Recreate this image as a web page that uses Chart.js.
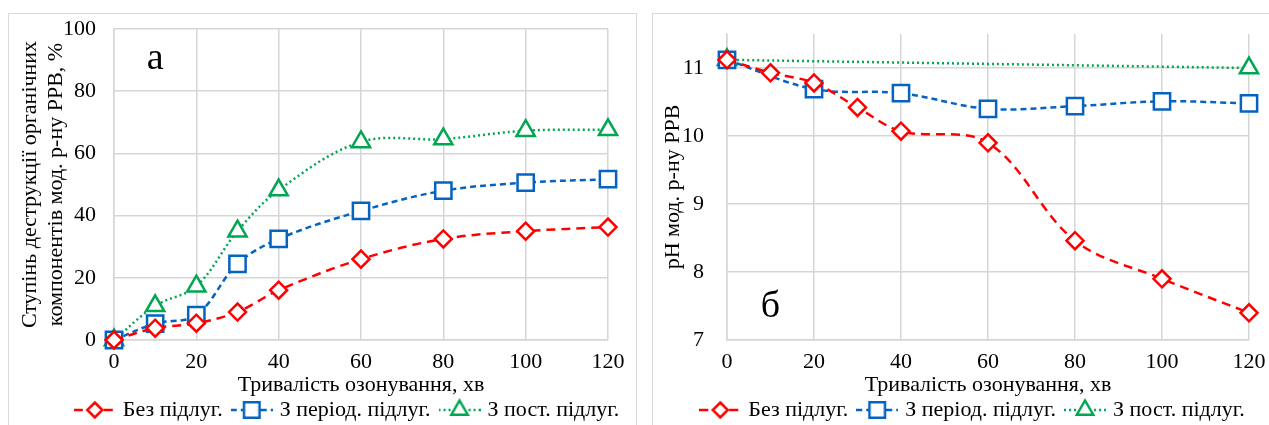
<!DOCTYPE html>
<html>
<head>
<meta charset="utf-8">
<script src="https://cdn.jsdelivr.net/npm/chart.js@4.4.0/dist/chart.umd.min.js"></script>
<style>
  body { margin: 0; width: 1269px; height: 425px; overflow: hidden; background: #fff; position: relative; }
  .frame { position: absolute; border: 1px solid #d9d9d9; }
  canvas { position: absolute; }
</style>
</head>
<body>
<div class="frame" style="left:8px;top:13px;width:627px;height:470px;"></div>
<div class="frame" style="left:652px;top:13px;width:700px;height:470px;"></div>
<canvas id="chartA" width="626" height="450" style="left:9px;top:15px;"></canvas>
<canvas id="chartB" width="640" height="450" style="left:653px;top:15px;"></canvas>
<script>
// time of ozonation, min
const timeAll = [0, 10, 20, 30, 40, 60, 80, 100, 120];
const timePeriodicB = [0, 20, 40, 60, 80, 100, 120];
const timeConstantB = [0, 120];

// (a) degree of destruction, %
const destrNoAlk = [0, 3.8, 5.4, 9.0, 16.0, 26.0, 32.5, 35.0, 36.3];
const destrPeriodic = [0, 5.3, 8.0, 24.5, 32.5, 41.5, 48.0, 50.6, 51.7];
const destrConstant = [0, 11.0, 17.3, 35.0, 48.2, 63.7, 64.6, 67.3, 67.6];

// (b) pH
const phNoAlk = [11.12, 10.93, 10.78, 10.42, 10.07, 9.90, 8.46, 7.90, 7.40];
const phPeriodic = [11.12, 10.69, 10.63, 10.40, 10.44, 10.51, 10.48];
const phConstant = [11.12, 11.00];

const seriesNames = ['Без підлуг.', 'З період. підлуг.', 'З пост. підлуг.'];
const xTicksA = { min: 0, max: 120, step: 20 };
const yTicksA = { min: 0, max: 100, step: 20 };
const yTicksB = { min: 7, max: 11.5, step: 1 };

const RED = '#FF0000';
const BLUE = '#0563C1';
const GREEN = '#00A651';
const GRID = '#d6d6d6';
const SERIF = '"Liberation Serif", "Times New Roman", serif';

Chart.defaults.font.family = SERIF;
Chart.defaults.font.size = 22;
Chart.defaults.color = '#000';

function points(xs, ys) {
  return xs.map((x, i) => ({ x: x, y: ys[i] }));
}

function shapePath(ctx, shape, x, y, r) {
  ctx.beginPath();
  if (shape === 'rectRot') {
    ctx.moveTo(x, y - r); ctx.lineTo(x + r, y); ctx.lineTo(x, y + r); ctx.lineTo(x - r, y);
  } else if (shape === 'rect') {
    const s = r * Math.SQRT1_2;
    ctx.rect(x - s, y - s, 2 * s, 2 * s);
  } else {
    ctx.moveTo(x, y - r);
    ctx.lineTo(x + r * 0.866, y + r / 2);
    ctx.lineTo(x - r * 0.866, y + r / 2);
  }
  ctx.closePath();
}

// little "line + marker" picture for the legend, like Excel does
function makeGlyph(color, dash, shape, r) {
  const c = document.createElement('canvas');
  c.width = 42; c.height = 24;
  const ctx = c.getContext('2d');
  ctx.strokeStyle = color;
  ctx.lineWidth = 2.5;
  ctx.setLineDash(dash);
  ctx.beginPath(); ctx.moveTo(0, 12); ctx.lineTo(42, 12); ctx.stroke();
  ctx.setLineDash([]);
  ctx.fillStyle = '#fff';
  shapePath(ctx, shape, 21, 12, r);
  ctx.fill(); ctx.stroke();
  return c;
}

const styles = [
  { color: RED, dash: [9, 6], shape: 'rectRot', radius: 8.5, glyphR: 7.5 },
  { color: BLUE, dash: [6, 4], shape: 'rect', radius: 11.5, glyphR: 11 },
  { color: GREEN, dash: [2, 3], shape: 'triangle', radius: 10.5, glyphR: 9.5 }
];
const glyphs = styles.map(s => makeGlyph(s.color, s.dash, s.shape, s.glyphR));

function dataset(i, data) {
  const s = styles[i];
  return {
    label: seriesNames[i],
    data: data,
    borderColor: s.color,
    borderWidth: 2.5,
    borderDash: s.dash,
    tension: 0.35,
    pointStyle: s.shape,
    pointRadius: s.radius,
    pointBorderWidth: 2.5,
    pointBorderColor: s.color,
    pointBackgroundColor: '#fff',
    clip: false
  };
}

const panelLetter = {
  id: 'panelLetter',
  afterDraw(chart, args, o) {
    const { ctx, scales } = chart;
    ctx.save();
    ctx.font = '38px ' + SERIF;
    ctx.fillStyle = '#000';
    ctx.textAlign = 'center';
    ctx.textBaseline = 'alphabetic';
    ctx.fillText(o.text, scales.x.getPixelForValue(o.x), scales.y.getPixelForValue(o.y));
    ctx.restore();
  }
};

// move the legend row a bit, the layout engine alone can't place it like Excel
const legendShift = {
  id: 'legendShift',
  afterLayout(chart, args, o) {
    const lg = chart.legend;
    lg.left += o.dx; lg.right += o.dx;
    lg.top += o.dy; lg.bottom += o.dy;
  }
};

function xScale() {
  return {
    type: 'linear',
    min: xTicksA.min,
    max: xTicksA.max,
    ticks: { stepSize: xTicksA.step, padding: 9 },
    grid: { color: GRID, lineWidth: 1.5, drawTicks: false },
    border: { color: GRID, width: 1.5 },
    title: { display: true, text: 'Тривалість озонування, хв', padding: { top: 0, bottom: 0 } },
    afterFit(s) { s.height = 58; }
  };
}

function yScale(t, padding, title, titlePad, width) {
  return {
    min: t.min,
    max: t.max,
    ticks: { stepSize: t.step, includeBounds: false, padding: padding },
    grid: { color: GRID, lineWidth: 1.5, drawTicks: false },
    border: { color: GRID, width: 1.5 },
    title: { display: true, text: title, padding: { top: titlePad, bottom: 0 } },
    afterFit(s) {
      s.width = width;
      s.paddingTop = 0;
      s.paddingBottom = 0;
    }
  };
}

function legendOpts() {
  return {
    position: 'bottom',
    labels: {
      usePointStyle: true,
      pointStyleWidth: 34,
      padding: 12,
      generateLabels(chart) {
        const items = Chart.defaults.plugins.legend.labels.generateLabels(chart);
        items.forEach((it, i) => { it.pointStyle = glyphs[i]; });
        return items;
      }
    }
  };
}

new Chart(document.getElementById('chartA'), {
  type: 'line',
  data: {
    datasets: [
      dataset(0, points(timeAll, destrNoAlk)),
      dataset(1, points(timeAll, destrPeriodic)),
      dataset(2, points(timeAll, destrConstant))
    ]
  },
  options: {
    responsive: false,
    animation: false,
    layout: { padding: { left: 0, right: 27, top: 12, bottom: 23 } },
    scales: {
      x: xScale(),
      y: yScale(yTicksA, 18, ['Ступінь деструкції органічних', 'компонентів мод. р-ну РРВ, %'], 8, 105)
    },
    plugins: {
      legend: legendOpts(),
      tooltip: { enabled: false },
      panelLetter: { text: 'а', x: 10, y: 87.2 },
      legendShift: { dx: 40, dy: -11 }
    }
  },
  plugins: [panelLetter, legendShift]
});

new Chart(document.getElementById('chartB'), {
  type: 'line',
  data: {
    datasets: [
      dataset(0, points(timeAll, phNoAlk)),
      dataset(1, points(timePeriodicB, phPeriodic)),
      dataset(2, points(timeConstantB, phConstant))
    ]
  },
  options: {
    responsive: false,
    animation: false,
    layout: { padding: { left: 0, right: 44, top: 19, bottom: 23 } },
    scales: {
      x: xScale(),
      y: yScale(yTicksB, 23, 'pH мод. р-ну РРВ', 7, 74)
    },
    plugins: {
      legend: legendOpts(),
      tooltip: { enabled: false },
      panelLetter: { text: 'б', x: 10, y: 7.34 },
      legendShift: { dx: 23, dy: -11 }
    }
  },
  plugins: [panelLetter, legendShift]
});
</script>
</body>
</html>
